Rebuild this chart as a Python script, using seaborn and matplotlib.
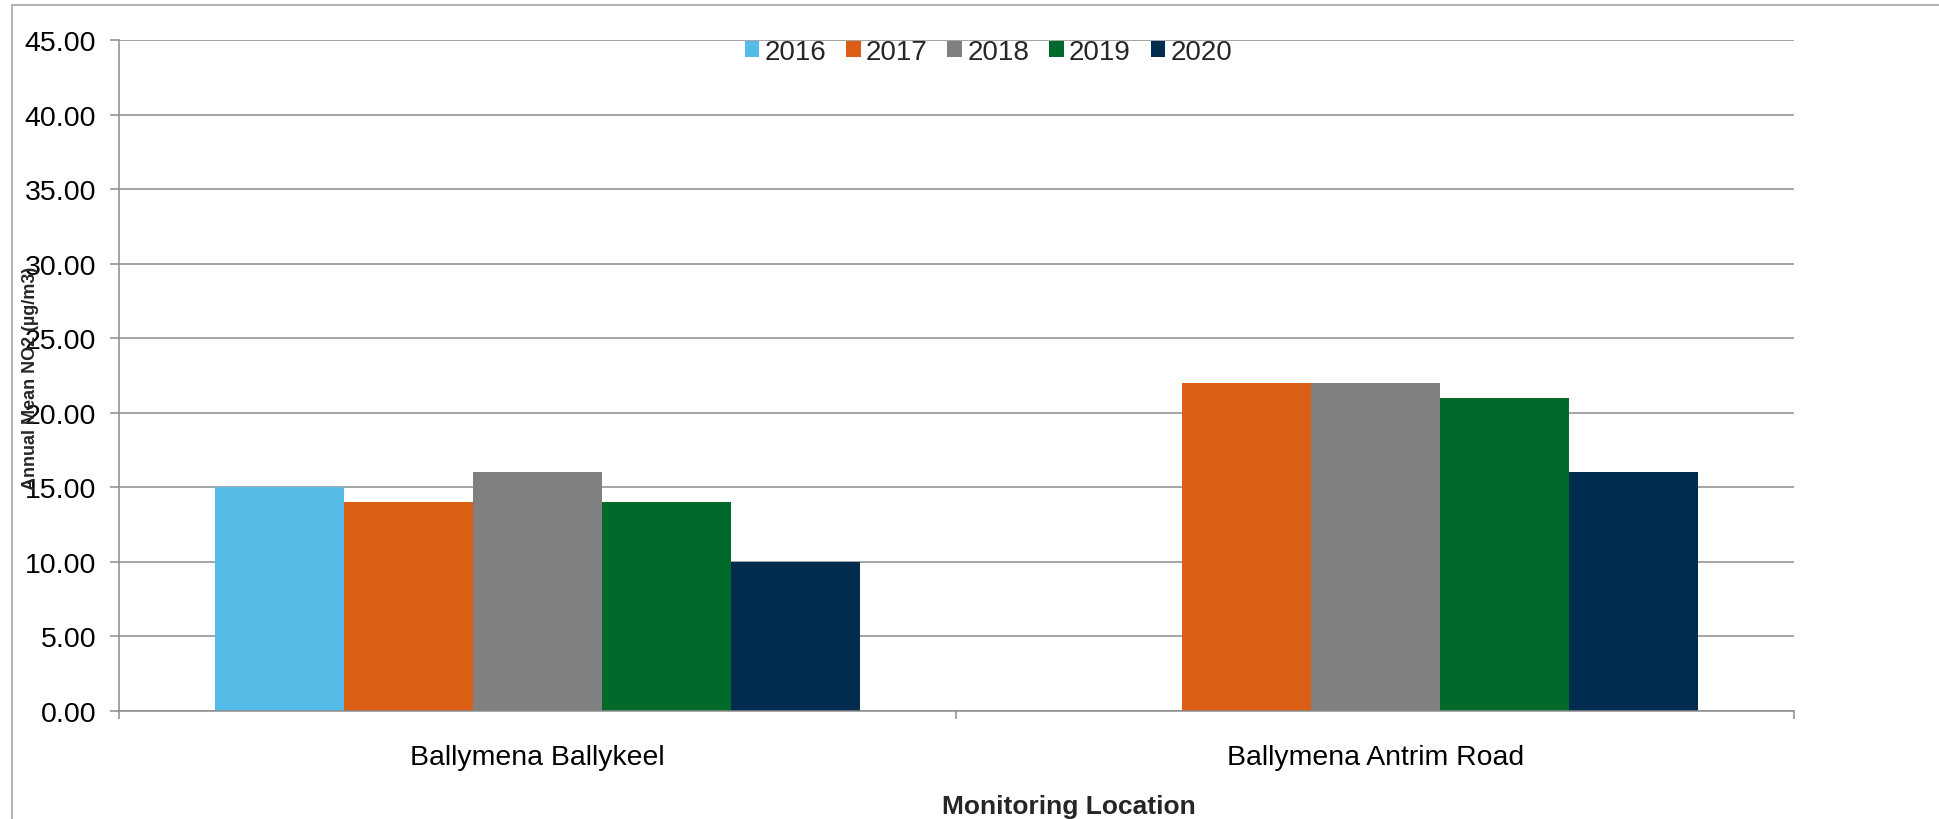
"""Annual mean NO2 by monitoring location, grouped bars per year."""

import matplotlib.pyplot as plt
import matplotlib.ticker as ticker
import numpy as np
import pandas as pd
import seaborn as sns
from matplotlib.patches import Rectangle

locations = ["Ballymena Ballykeel", "Ballymena Antrim Road"]
years = ["2016", "2017", "2018", "2019", "2020"]
ballykeel = [15.0, 14.0, 16.0, 14.0, 10.0]
antrim_road = [np.nan, 22.0, 22.0, 21.0, 16.0]
colors = ["#56BCE7", "#DA5F14", "#808080", "#006A2B", "#002C50"]

rows = []
for loc, vals in zip(locations, [ballykeel, antrim_road]):
    for yr, v in zip(years, vals):
        rows.append({"location": loc, "year": yr, "value": v})
df = pd.DataFrame(rows)

sns.set_theme(style="white")
plt.rcParams["font.family"] = ["Liberation Sans", "DejaVu Sans"]

grid_col = "#8C8C8C"

fig = plt.figure(figsize=(19.4, 8.2), dpi=100)
ax = fig.add_axes([119 / 1940, 1 - 712 / 820, (1794 - 119) / 1940, 671 / 820])

sns.barplot(
    data=df,
    x="location",
    y="value",
    hue="year",
    order=locations,
    hue_order=years,
    palette=colors,
    errorbar=None,
    width=0.77,
    saturation=1,
    linewidth=0,
    ax=ax,
)

ax.set_ylim(0, 45)
ax.set_xlim(-0.5, 1.5)
ax.yaxis.set_major_locator(ticker.MultipleLocator(5))
ax.yaxis.set_major_formatter(ticker.FormatStrFormatter("%.2f"))
ax.yaxis.grid(True, color=grid_col, linewidth=1.1)
ax.set_axisbelow(True)

for side in ["top", "right"]:
    ax.spines[side].set_visible(False)
for side in ["left", "bottom"]:
    ax.spines[side].set_color(grid_col)
    ax.spines[side].set_linewidth(1.1)

ax.tick_params(axis="y", which="major", left=True, length=6.5, width=1.1,
               color=grid_col, labelsize=20.5, pad=10, labelcolor="black")
ax.tick_params(axis="x", which="major", length=0, labelsize=20.4, pad=24,
               labelcolor="black")
ax.xaxis.set_minor_locator(ticker.FixedLocator([-0.5, 0.5, 1.5]))
ax.tick_params(axis="x", which="minor", bottom=True, length=6, width=1.1,
               color=grid_col)

ax.set_xlabel("")
ax.set_ylabel("")

# y title sits over the tick labels, as in the source chart
fig.text(31 / 1940, 1 - 378 / 820, "Annual Mean NO2 (µg/m3)", rotation=90,
         ha="center", va="center", fontsize=13, fontweight="bold")
fig.text(1069 / 1940, 1 - 807 / 820, "Monitoring Location", ha="center",
         va="center", fontsize=19, fontweight="bold")

handles, labels = ax.get_legend_handles_labels()
ax.legend(handles, labels, loc="center", bbox_to_anchor=(0.519, 0.982),
          ncol=5, frameon=False, fontsize=20, handlelength=0.53,
          handleheight=0.53, handletextpad=0.18, columnspacing=0.72,
          borderaxespad=0)

fig.add_artist(Rectangle((12 / 1940, -0.05), 1.2, 1 - 6 / 820 + 0.05,
                         transform=fig.transFigure, fill=False,
                         edgecolor="#A6A6A6", linewidth=1.2))

fig.savefig("out.png", dpi=100)
plt.close(fig)
